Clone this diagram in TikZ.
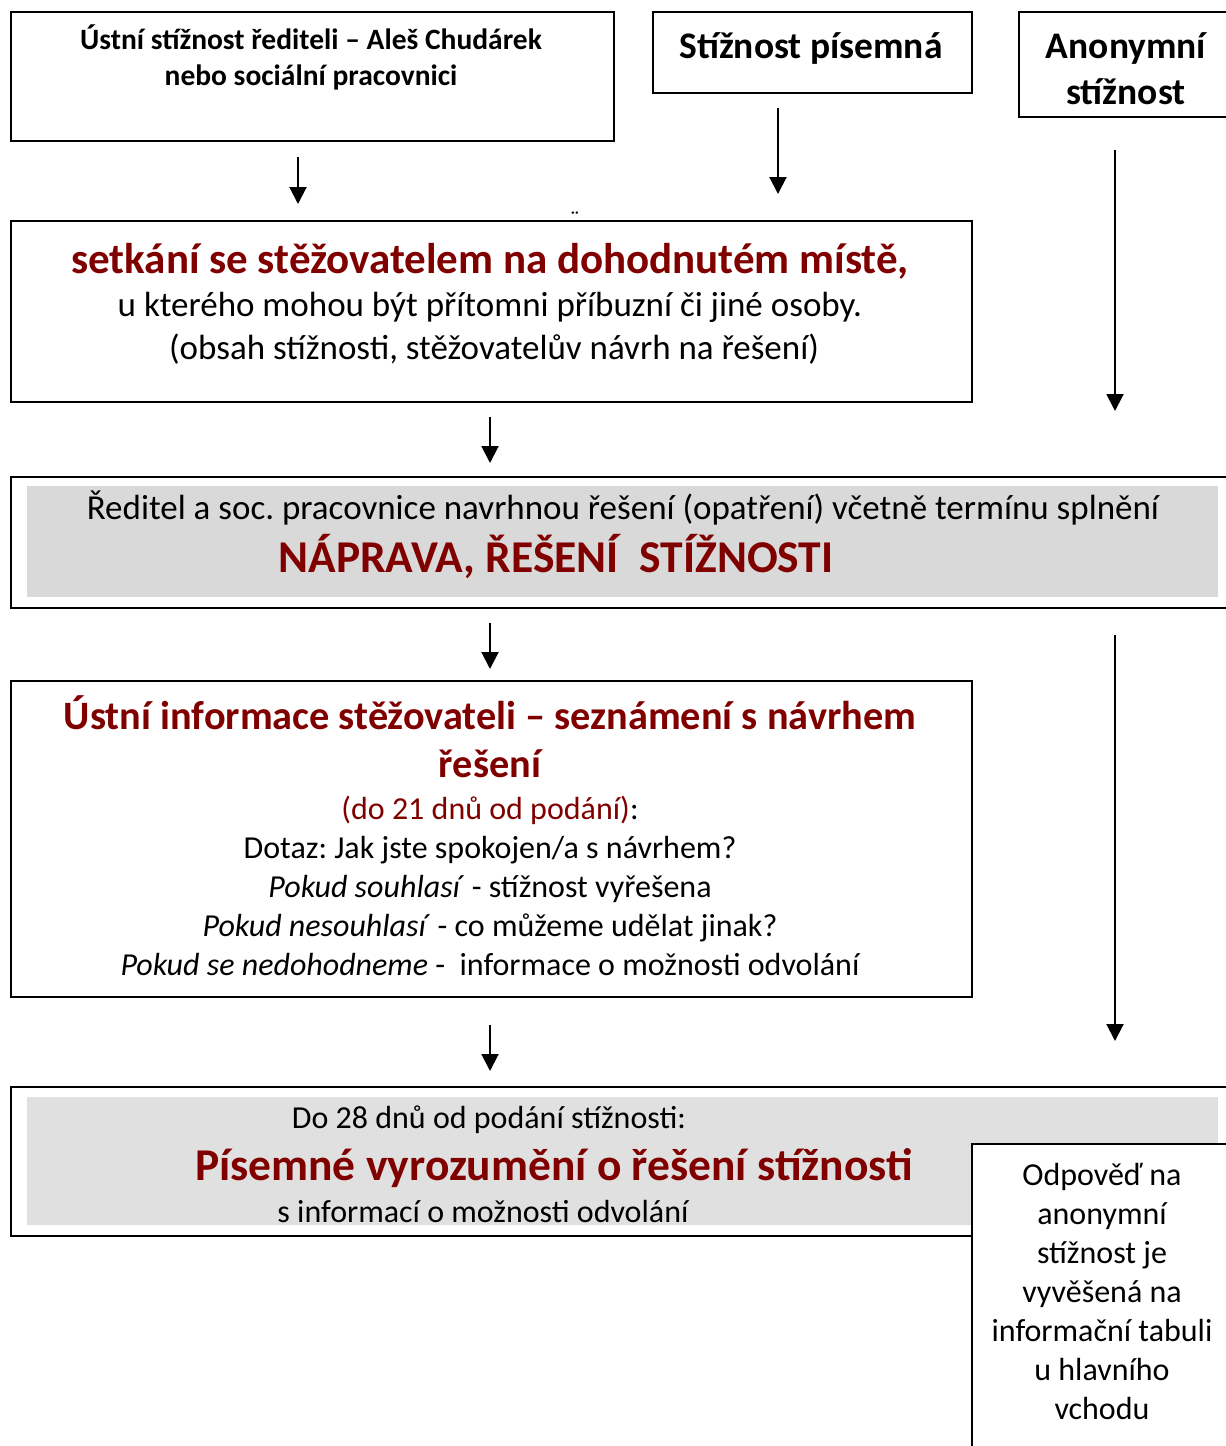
\documentclass[tikz,border=0pt]{standalone}
\usepackage{fontspec}
\setmainfont{Carlito}
\usetikzlibrary{arrows.meta,positioning}
\definecolor{darkred}{HTML}{800000}
\definecolor{panelgray}{HTML}{D9D9D9}
\definecolor{panelgraylt}{HTML}{E0E0E0}
\frenchspacing

\tikzset{
  frame/.style={draw=black,line width=1.6pt,inner sep=0pt,anchor=north west},
  panel/.style={inner sep=0pt,anchor=north west},
  flow/.style={-{Triangle[width=17pt,length=17pt]},line width=2pt},
  hdr/.style={font=\bfseries\fontsize{29.5}{36}\selectfont,inner sep=0pt,anchor=base},
  src/.style={font=\bfseries\fontsize{37.5}{46}\selectfont,inner sep=0pt,anchor=base},
  redhdr/.style={text=darkred,font=\bfseries\fontsize{43}{48}\selectfont,inner sep=0pt,anchor=base},
  body/.style={font=\fontsize{32}{39}\selectfont,inner sep=0pt,anchor=base},
  bodylg/.style={body,font=\fontsize{35}{43}\selectfont},
}

\begin{document}
\begin{tikzpicture}[x=1pt,y=-1pt]
  \useasboundingbox (0,0) rectangle (1226,1446);
  \clip (0,0) rectangle (1226,1446);

  % three ways in
  \node[frame,minimum width=603pt,minimum height=129pt] (oral) at (10,11) {};
  \node[hdr] (oral1) at (311,49) {Ústní stížnost řediteli – Aleš Chudárek};
  \node[hdr] (oral2) at (311,85) {nebo sociální pracovnici};
  \node[frame,minimum width=319pt,minimum height=81pt] (written) at (652,11) {};
  \node[src] (written1) at (811,58) {Stížnost písemná};
  \node[frame,minimum width=230pt,minimum height=105pt] (anon) at (1018,11) {};
  \node[src] (anon1) at (1126,58) {Anonymní};
  \node[src] (anon2) at (1126,104) {stížnost};
  \node[font=\fontsize{22}{24}\selectfont,inner sep=0pt,anchor=base] (stray) at (575,226) {¨};

  % meeting
  \node[frame,minimum width=961pt,minimum height=181pt] (meet) at (10,220) {};
  \node[redhdr] (meet1) at (490,273) {setkání se stěžovatelem na dohodnutém místě,};
  \node[bodylg] (meet2) at (490,316) {u kterého mohou být přítomni příbuzní či jiné osoby.};
  \node[bodylg] (meet3) at (494,359) {(obsah stížnosti, stěžovatelův návrh na řešení)};

  % remedy
  \node[frame,minimum width=1240pt,minimum height=131pt] (fix) at (10,476) {};
  \node[panel,fill=panelgray,minimum width=1191pt,minimum height=111pt] (fixbg) at (27,486) {};
  \node[bodylg] (fix1) at (623,519) {Ředitel a soc. pracovnice navrhnou řešení (opatření) včetně termínu splnění};
  \node[redhdr,font=\bfseries\fontsize{45.5}{52}\selectfont] (fix2) at (556,572) {NÁPRAVA, ŘEŠENÍ\ \ STÍŽNOSTI};

  % oral answer
  \node[frame,minimum width=961pt,minimum height=316pt] (inform) at (10,680) {};
  \node[redhdr,font=\bfseries\fontsize{40.3}{48}\selectfont] (inform1) at (490,729) {Ústní informace stěžovateli – seznámení s návrhem};
  \node[redhdr,font=\bfseries\fontsize{40.3}{48}\selectfont] (inform2) at (490,777) {řešení};
  \node[body] (inform3) at (490,819) {{\color{darkred}(do 21 dnů od podání)}:};
  \node[body] (inform4) at (490,858) {Dotaz: Jak jste spokojen/a s návrhem?};
  \node[body] (inform5) at (490,897) {\textit{Pokud souhlasí} - stížnost vyřešena};
  \node[body] (inform6) at (490,936) {\textit{Pokud nesouhlasí} - co můžeme udělat jinak?};
  \node[body] (inform7) at (490,975) {\textit{Pokud se nedohodneme} -\ \ informace o možnosti odvolání};

  % written answer
  \node[frame,minimum width=1240pt,minimum height=149pt] (letter) at (10,1086) {};
  \node[panel,fill=panelgraylt,minimum width=1191pt,minimum height=128pt] (letterbg) at (27,1097) {};
  \node[body] (letter1) at (489,1128) {Do 28 dnů od podání stížnosti:};
  \node[redhdr,font=\bfseries\fontsize{45.5}{52}\selectfont] (letter2) at (554,1180) {Písemné vyrozumění o řešení stížnosti};
  \node[body] (letter3) at (483,1222) {s informací o možnosti odvolání};

  % anonymous answer
  \node[frame,fill=white,minimum width=280pt,minimum height=330pt] (reply) at (971,1143) {};
  \foreach \txt [count=\i] in {Odpověď na,anonymní,stížnost je,vyvěšená na,informační tabuli,u hlavního,vchodu}
    \node[body] (reply\i) at (1102,1146+39*\i) {\txt};

  % arrows
  \coordinate (oral-out) at (298,157);
  \coordinate (oral-in) at (298,204);
  \coordinate (written-out) at (778,108);
  \coordinate (written-in) at (778,194);
  \coordinate (anon-out) at (1115,150);
  \coordinate (anon-mid) at (1115,411);
  \coordinate (anon-on) at (1115,635);
  \coordinate (anon-in) at (1115,1041);
  \coordinate (meet-out) at (490,417);
  \coordinate (fix-in) at (490,463);
  \coordinate (fix-out) at (490,623);
  \coordinate (inform-in) at (490,669);
  \coordinate (inform-out) at (490,1025);
  \coordinate (letter-in) at (490,1071);
  \draw[flow] (oral-out) -- (oral-in);
  \draw[flow] (written-out) -- (written-in);
  \draw[flow] (anon-out) -- (anon-mid);
  \draw[flow] (anon-on) -- (anon-in);
  \draw[flow] (meet-out) -- (fix-in);
  \draw[flow] (fix-out) -- (inform-in);
  \draw[flow] (inform-out) -- (letter-in);
\end{tikzpicture}
\end{document}
